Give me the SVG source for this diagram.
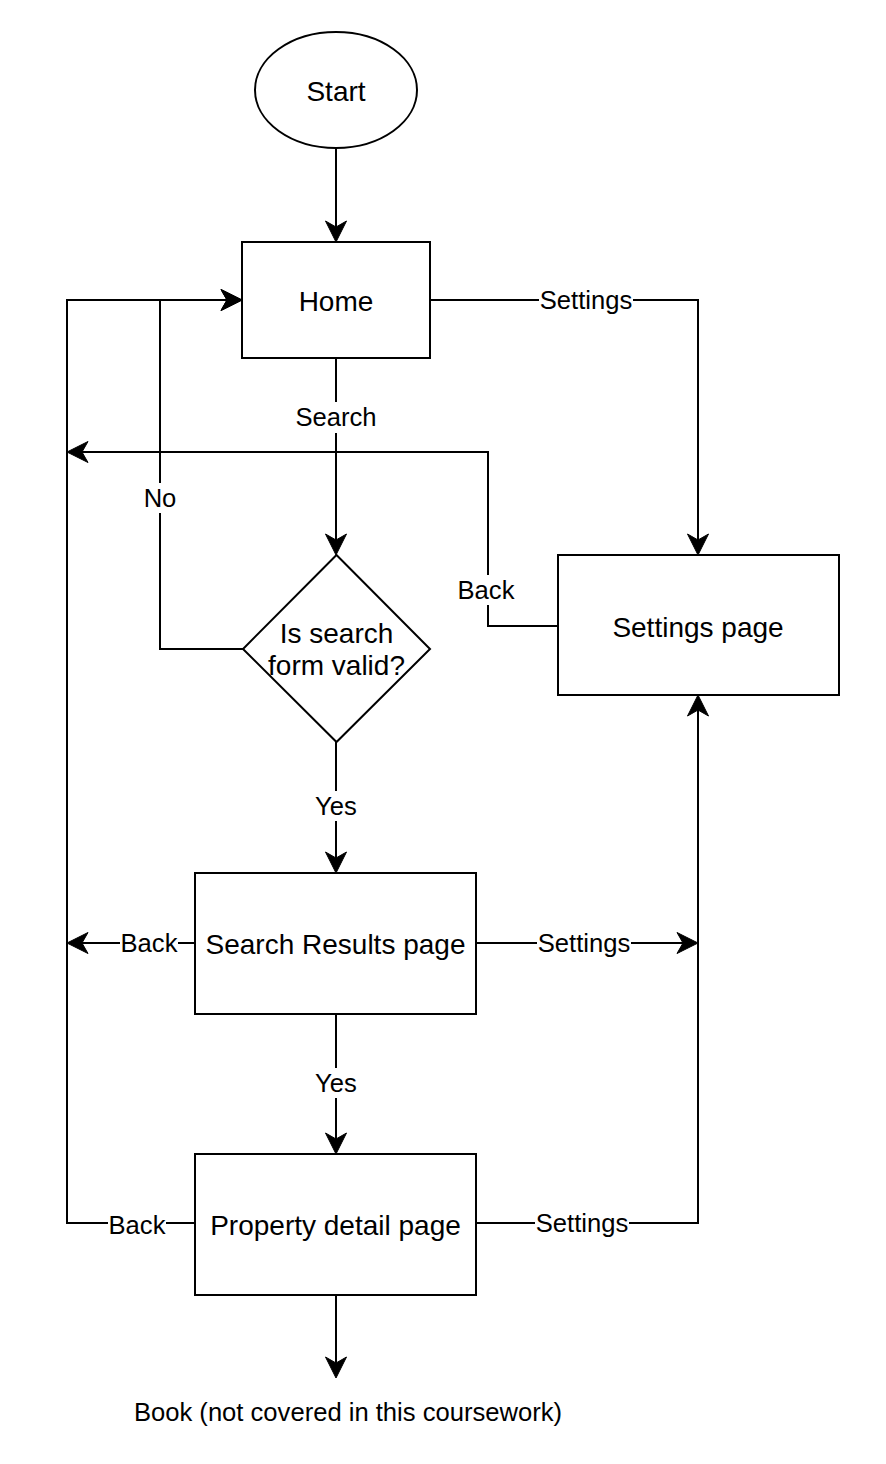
<svg xmlns="http://www.w3.org/2000/svg" width="886" height="1464" viewBox="0 0 886 1464">
<style>
.node{fill:#fff;stroke:#000;stroke-width:2}
.edge{fill:none;stroke:#000;stroke-width:2}
.nt{font-family:"Liberation Sans",Arial,Helvetica,sans-serif;font-size:28px;fill:#000;text-anchor:middle}
.lt{font-family:"Liberation Sans",Arial,Helvetica,sans-serif;font-size:25.6px;fill:#000;text-anchor:middle}
.lbg{fill:#fff;stroke:none}
</style>
<defs>
<marker id="arr" markerUnits="userSpaceOnUse" viewBox="-8 -12 26 24" refX="0" refY="0" markerWidth="26" markerHeight="24" orient="auto" overflow="visible">
<path d="M15,0 L-6,-10.5 L0,0 L-6,10.5 Z" fill="#000" stroke="#000" stroke-width="1"/>
</marker>
</defs>
<rect width="886" height="1464" fill="#fff"/>
<g id="connectors">
<path class="edge" d="M336,148 V227" marker-end="url(#arr)"/>
<path class="edge" d="M430,300 H698 V540" marker-end="url(#arr)"/>
<path class="edge" d="M336,358 V540" marker-end="url(#arr)"/>
<path class="edge" d="M243,649 H160 V300 H227" marker-end="url(#arr)"/>
<path class="edge" d="M558,626 H488 V452 H82" marker-end="url(#arr)"/>
<path class="edge" d="M336,742 V858" marker-end="url(#arr)"/>
<path class="edge" d="M195,943 H82" marker-end="url(#arr)"/>
<path class="edge" d="M476,943 H683" marker-end="url(#arr)"/>
<path class="edge" d="M336,1014 V1139" marker-end="url(#arr)"/>
<path class="edge" d="M195,1223 H67 V300 H227" marker-end="url(#arr)"/>
<path class="edge" d="M476,1223 H698 V710" marker-end="url(#arr)"/>
<path class="edge" d="M336,1295 V1363" marker-end="url(#arr)"/>
<g id="edge-labels">
<rect class="lbg" x="539" y="286" width="94" height="28"/>
<text class="lt" x="586" y="309">Settings</text>
<rect class="lbg" x="295" y="402" width="82" height="31"/>
<text class="lt" x="336" y="426">Search</text>
<rect class="lbg" x="143" y="483" width="34" height="30"/>
<text class="lt" x="160" y="507">No</text>
<rect class="lbg" x="457" y="575" width="58" height="30"/>
<text class="lt" x="486" y="599">Back</text>
<rect class="lbg" x="313" y="791" width="46" height="30"/>
<text class="lt" x="336" y="815">Yes</text>
<rect class="lbg" x="120" y="929" width="58" height="28"/>
<text class="lt" x="149" y="952">Back</text>
<rect class="lbg" x="537" y="929" width="94" height="28"/>
<text class="lt" x="584" y="952">Settings</text>
<rect class="lbg" x="313" y="1068" width="46" height="30"/>
<text class="lt" x="336" y="1092">Yes</text>
<rect class="lbg" x="108" y="1210" width="58" height="28"/>
<text class="lt" x="137" y="1234">Back</text>
<rect class="lbg" x="535" y="1209" width="94" height="28"/>
<text class="lt" x="582" y="1232">Settings</text>
<text class="lt" x="348" y="1421">Book (not covered in this coursework)</text>
</g>
</g>
<g id="start">
<ellipse class="node" cx="336" cy="90" rx="81" ry="58"/>
<text class="nt" x="336" y="101">Start</text>
</g>
<g id="home">
<rect class="node" x="242" y="242" width="188" height="116"/>
<text class="nt" x="336" y="311">Home</text>
</g>
<g id="decision">
<polygon class="node" points="336.5,555 430,649 336.5,742 243,649"/>
<text class="nt" x="336.5" y="643">Is search</text>
<text class="nt" x="336.5" y="675">form valid?</text>
</g>
<g id="settings">
<rect class="node" x="558" y="555" width="281" height="140"/>
<text class="nt" x="698" y="637">Settings page</text>
</g>
<g id="search-results">
<rect class="node" x="195" y="873" width="281" height="141"/>
<text class="nt" x="335.5" y="954">Search Results page</text>
</g>
<g id="property-detail">
<rect class="node" x="195" y="1154" width="281" height="141"/>
<text class="nt" x="335.5" y="1235">Property detail page</text>
</g>
</svg>
